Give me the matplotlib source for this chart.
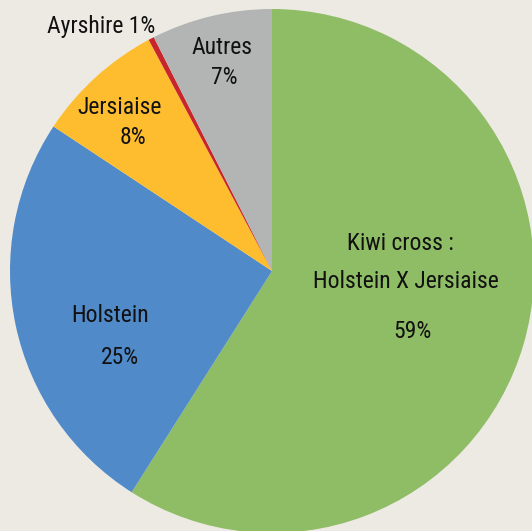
import matplotlib
matplotlib.use("Agg")
import matplotlib.pyplot as plt
from matplotlib import font_manager

# parts du troupeau par race
races = ["Kiwi cross", "Holstein", "Jersiaise", "Ayrshire", "Autres"]
parts = [59.0, 25.3, 7.9, 0.35, 7.45]
couleurs = ["#8FBD65", "#508AC9", "#FDBD2F", "#C8262C", "#B3B5B5"]

# étiquettes, une ligne à la fois, avec leur position en pixels (haut = 0)
lignes = ["Kiwi cross :", "Holstein X Jersiaise", "59%",
          "Holstein", "25%",
          "Jersiaise", "8%",
          "Ayrshire 1%",
          "Autres", "7%"]
lignes_x = [400, 406, 412, 110, 120, 120, 133, 101, 222, 224]
lignes_y = [243, 282, 332, 316, 357, 108, 138, 26, 48, 78]

fond = "#EDEAE4"

# police étroite si disponible
dispo = {f.name for f in font_manager.fontManager.ttflist}
police = "DejaVu Sans"
for nom in ["Roboto Condensed", "Liberation Sans Narrow", "DejaVu Sans Condensed"]:
    if nom in dispo:
        police = nom
        break
plt.rcParams["font.family"] = [police, "DejaVu Sans"]

fig = plt.figure(figsize=(5.32, 5.31), dpi=100, facecolor=fond)
ax = fig.add_axes([0, 0, 1, 1])
ax.set_facecolor(fond)

ax.pie(parts, colors=couleurs, startangle=90, counterclock=False,
       center=(272, 531 - 271), radius=262, frame=True,
       wedgeprops=dict(linewidth=0))
ax.set_xlim(0, 532)
ax.set_ylim(0, 531)
ax.set_aspect("equal")
ax.axis("off")

for txt, x, y in zip(lignes, lignes_x, lignes_y):
    ax.text(x, 531 - y, txt, ha="center", va="center", fontsize=17,
            color="#111111")

fig.savefig("out.png", dpi=100, facecolor=fond)
